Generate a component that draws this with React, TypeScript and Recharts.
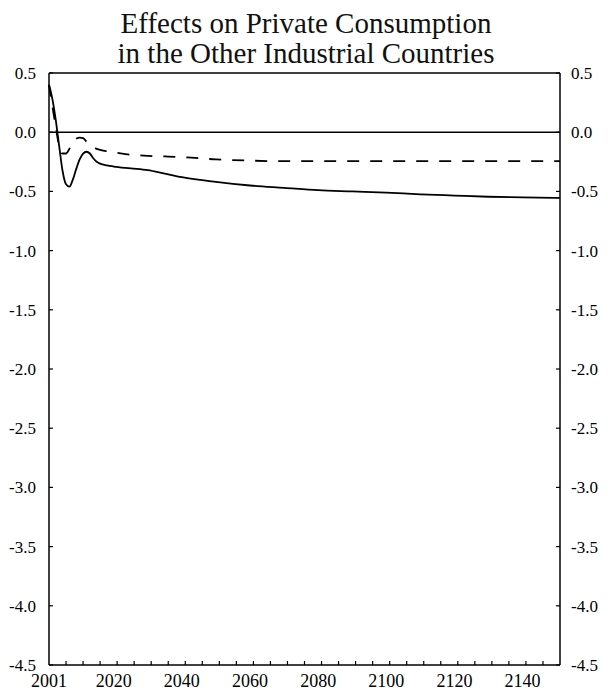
import React from 'react';
import {
    LineChart,
    Line,
    XAxis,
    YAxis,
    ReferenceLine,
} from 'recharts';

const years = [
    2001, 2002, 2003, 2004, 2005, 2006, 2007, 2008, 2009, 2010, 2011, 2012, 2013, 2014, 2015, 2016,
    2018, 2020, 2025, 2030, 2035, 2040, 2050, 2060, 2070, 2080, 2090, 2100, 2110, 2120, 2130, 2140, 2151,
];

// solid line
const solidValues = [
    0.4, 0.28, 0.1, -0.12, -0.33, -0.44, -0.46, -0.4, -0.31, -0.23, -0.18, -0.165, -0.18, -0.22, -0.25, -0.265,
    -0.28, -0.29, -0.305, -0.32, -0.35, -0.38, -0.42, -0.45, -0.47, -0.49, -0.5, -0.51, -0.525, -0.535, -0.545, -0.55, -0.555,
];

// dashed line
const dashedValues = [
    0.4, 0.22, 0.04, -0.12, -0.18, -0.18, -0.14, -0.09, -0.055, -0.045, -0.05, -0.08, -0.11, -0.13, -0.14, -0.15,
    -0.16, -0.17, -0.19, -0.2, -0.205, -0.21, -0.23, -0.24, -0.245, -0.245, -0.245, -0.245, -0.245, -0.245, -0.245, -0.245, -0.245,
];

const xLabels = [2001, 2020, 2040, 2060, 2080, 2100, 2120, 2140];
const xMinorTicks = [
    2006, 2011, 2016, 2021, 2026, 2031, 2036, 2041, 2046, 2051, 2056, 2061, 2066, 2071, 2076, 2081,
    2086, 2091, 2096, 2101, 2106, 2111, 2116, 2121, 2126, 2131, 2136, 2141, 2146,
];
const yTicks = [0.5, 0, -0.5, -1, -1.5, -2, -2.5, -3, -3.5, -4, -4.5];

const data = years.map((year, i) => ({
    year,
    solid: solidValues[i],
    dashed: dashedValues[i],
}));

const FONT = '"Liberation Serif", "Times New Roman", serif';

function Label({ x, y, anchor, size, children }: any) {
    return (
        <text
            x={x}
            y={y}
            textAnchor={anchor}
            fontFamily={FONT}
            fontSize={size}
            fill="#000"
            style={{ fontFamily: FONT, fontSize: size }}
        >
            {children}
        </text>
    );
}

function XTick(props: any) {
    const { x, y, payload } = props;
    if (xLabels.includes(payload.value)) {
        return (
            <Label x={x} y={y + 22} anchor="middle" size={18}>
                {payload.value}
            </Label>
        );
    }
    return <line x1={x} y1={y} x2={x} y2={y - 4} stroke="#000" strokeWidth={1.2} />;
}

function LeftTick(props: any) {
    const { x, y, payload } = props;
    return (
        <g>
            <line x1={x} y1={y} x2={x + 4} y2={y} stroke="#000" strokeWidth={1.2} />
            <Label x={x - 13} y={y + 6} anchor="end" size={17}>
                {payload.value.toFixed(1)}
            </Label>
        </g>
    );
}

function RightTick(props: any) {
    const { x, y, payload } = props;
    return (
        <g>
            <line x1={x} y1={y} x2={x - 4} y2={y} stroke="#000" strokeWidth={1.2} />
            <Label x={x + 11} y={y + 6} anchor="start" size={17}>
                {payload.value.toFixed(1)}
            </Label>
        </g>
    );
}

export default function App() {
    return (
        <div style={{ position: 'absolute', left: 0, top: 0, width: 614, height: 690, background: '#fff' }}>
            <div
                style={{
                    position: 'absolute',
                    top: 8,
                    left: 0,
                    width: 612,
                    textAlign: 'center',
                    fontFamily: FONT,
                    fontSize: 29,
                    lineHeight: '30px',
                    color: '#111',
                }}
            >
                Effects on Private Consumption
                <br />
                in the Other Industrial Countries
            </div>
            <LineChart width={614} height={690} data={data} margin={{ top: 73, right: 0, bottom: 0, left: 0 }}>
                <XAxis
                    dataKey="year"
                    type="number"
                    domain={[2001, 2151]}
                    ticks={[...xLabels, ...xMinorTicks]}
                    interval={0}
                    height={25}
                    tickSize={0}
                    tickMargin={0}
                    tickLine={false}
                    tick={(p: any) => <XTick {...p} />}
                    axisLine={{ stroke: '#000', strokeWidth: 1.5 }}
                />
                <YAxis
                    yAxisId="l"
                    type="number"
                    domain={[-4.5, 0.5]}
                    ticks={yTicks}
                    interval={0}
                    width={49}
                    tickSize={0}
                    tickMargin={0}
                    tickLine={false}
                    tick={(p: any) => <LeftTick {...p} />}
                    axisLine={{ stroke: '#000', strokeWidth: 1.5 }}
                />
                <YAxis
                    yAxisId="r"
                    orientation="right"
                    type="number"
                    domain={[-4.5, 0.5]}
                    ticks={yTicks}
                    interval={0}
                    width={54}
                    tickSize={0}
                    tickMargin={0}
                    tickLine={false}
                    tick={(p: any) => <RightTick {...p} />}
                    axisLine={{ stroke: '#000', strokeWidth: 1.5 }}
                />
                <ReferenceLine yAxisId="l" y={0.5} stroke="#000" strokeWidth={1.5} />
                <ReferenceLine yAxisId="l" y={0} stroke="#000" strokeWidth={1.5} />
                <Line
                    yAxisId="l"
                    type="monotone"
                    dataKey="solid"
                    stroke="#000"
                    strokeWidth={1.8}
                    dot={false}
                    isAnimationActive={false}
                />
                <Line
                    yAxisId="r"
                    type="monotone"
                    dataKey="dashed"
                    stroke="#000"
                    strokeWidth={1.8}
                    strokeDasharray="12 11"
                    dot={false}
                    isAnimationActive={false}
                />
            </LineChart>
        </div>
    );
}
